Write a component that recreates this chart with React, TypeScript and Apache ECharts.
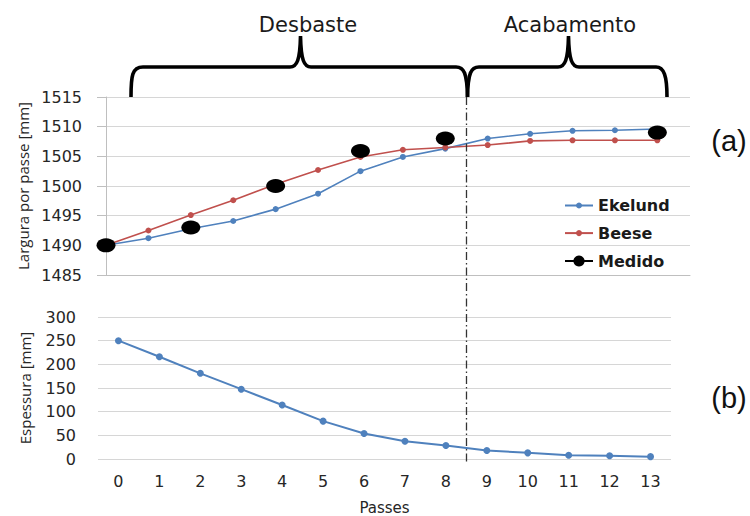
import React, { useEffect, useRef } from "react";
import * as echarts from "echarts";

const passes = ["0", "1", "2", "3", "4", "5", "6", "7", "8", "9", "10", "11", "12", "13"];
const ekelund = [1490, 1491.2, 1492.8, 1494.1, 1496.1, 1498.7, 1502.5, 1504.9, 1506.3, 1508.0, 1508.8, 1509.3, 1509.4, 1509.6];
const beese = [1490, 1492.5, 1495.1, 1497.6, 1500.3, 1502.7, 1504.9, 1506.1, 1506.5, 1506.9, 1507.6, 1507.7, 1507.7, 1507.7];
const medidoPasses = [0, 2, 4, 6, 8, 13];
const medido = [1490, 1493, 1500, 1505.9, 1508, 1509];
const espessura = [250, 216, 181, 147.5, 114, 80, 54, 37.5, 28.5, 18, 13, 8, 7, 5];
const phaseLabels = ["Desbaste", "Acabamento"];
const phaseSplit = 8.5;

const BLUE = "#4F81BD";
const RED = "#C0504D";
const GRID_COLOR = "#d6d6d6";
const LABEL_COLOR = "#262626";

const braceLeft =
  "M131,97 C131,76 132,67 143,67 L290,67 C297,67 300,60 300.5,36 C301,60 304,67 311,67 L456,67 C464,67 467,73 467.5,97";
const braceRight =
  "M467.5,97 C468,73 471,67 479,67 L558,67 C565,67 568,60 568.5,36 C569,60 572,67 579,67 L656,67 C664,67 667,76 667,97";

let registered = false;
function registerShapes() {
  if (registered) return;
  echarts.graphic.registerShape("braceLeft", echarts.graphic.extendPath(braceLeft, {}));
  echarts.graphic.registerShape("braceRight", echarts.graphic.extendPath(braceRight, {}));
  registered = true;
}

export default function App() {
  const ref = useRef<HTMLDivElement>(null);
  useEffect(() => {
    if (!ref.current) return;
    registerShapes();
    const chart = echarts.init(ref.current, null, { renderer: "svg" });
    const option: any = {
      animation: false,
      backgroundColor: "#ffffff",
      grid: [
        { left: 106, top: 97, width: 584, height: 178 },
        { left: 98, top: 317, width: 573, height: 147 },
      ],
      xAxis: [
        {
          type: "value",
          gridIndex: 0,
          min: 0,
          max: 13.77,
          axisLine: { show: true, lineStyle: { color: "#bfbfbf", width: 1 } },
          axisTick: { show: false },
          axisLabel: { show: false },
          splitLine: { show: false },
        },
        {
          type: "category",
          gridIndex: 1,
          data: passes,
          boundaryGap: true,
          axisLine: { show: false },
          axisTick: { show: false },
          axisLabel: { color: LABEL_COLOR, fontSize: 16, fontFamily: "DejaVu Sans", margin: 14 },
          name: "Passes",
          nameLocation: "middle",
          nameGap: 41,
          nameTextStyle: { color: LABEL_COLOR, fontSize: 15, fontFamily: "DejaVu Sans" },
        },
      ],
      yAxis: [
        {
          type: "value",
          gridIndex: 0,
          min: 1485,
          max: 1515,
          interval: 5,
          axisLine: { show: true, lineStyle: { color: "#bfbfbf" } },
          axisTick: { show: true, length: 9, lineStyle: { color: "#bfbfbf" } },
          axisLabel: {
            color: LABEL_COLOR,
            fontSize: 16,
            fontFamily: "DejaVu Sans",
            margin: 24,
            formatter: (v: number) => String(v),
          },
          splitLine: { lineStyle: { color: GRID_COLOR } },
          name: "Largura por passe [mm]",
          nameLocation: "middle",
          nameGap: 76,
          nameTextStyle: { color: LABEL_COLOR, fontSize: 15, fontFamily: "Open Sans" },
        },
        {
          type: "value",
          gridIndex: 1,
          min: 0,
          max: 300,
          interval: 50,
          axisLine: { show: false },
          axisTick: { show: false },
          axisLabel: {
            color: LABEL_COLOR,
            fontSize: 16,
            fontFamily: "DejaVu Sans",
            margin: 22,
            formatter: (v: number) => String(v),
          },
          splitLine: { lineStyle: { color: GRID_COLOR } },
          name: "Espessura [mm]",
          nameLocation: "middle",
          nameGap: 66,
          nameTextStyle: { color: LABEL_COLOR, fontSize: 15, fontFamily: "Open Sans" },
        },
      ],
      legend: [
        {
          data: ["Ekelund", "Beese"],
          orient: "vertical",
          left: 564,
          top: 197.5,
          padding: 0,
          itemWidth: 28,
          itemHeight: 7.5,
          itemGap: 11.6,
          textStyle: { fontSize: 16, fontWeight: "bold", fontFamily: "DejaVu Sans", color: "#1a1a1a", lineHeight: 16 },
        },
        {
          data: ["Medido"],
          orient: "vertical",
          left: 564,
          top: 253,
          padding: 0,
          itemWidth: 28,
          itemHeight: 14,
          lineStyle: { color: "#000", width: 2, opacity: 1 },
          textStyle: { fontSize: 16, fontWeight: "bold", fontFamily: "DejaVu Sans", color: "#1a1a1a", lineHeight: 16 },
        },
      ],
      series: [
        {
          name: "Ekelund",
          type: "line",
          xAxisIndex: 0,
          yAxisIndex: 0,
          data: ekelund.map((v, i) => [i, v]),
          symbol: "circle",
          symbolSize: 6,
          itemStyle: { color: BLUE },
          lineStyle: { color: BLUE, width: 1.6 },
        },
        {
          name: "Beese",
          type: "line",
          xAxisIndex: 0,
          yAxisIndex: 0,
          data: beese.map((v, i) => [i, v]),
          symbol: "circle",
          symbolSize: 6,
          itemStyle: { color: RED },
          lineStyle: { color: RED, width: 1.6 },
        },
        {
          name: "Medido",
          type: "line",
          xAxisIndex: 0,
          yAxisIndex: 0,
          data: medido.map((v, i) => [medidoPasses[i], v]),
          symbol: "circle",
          symbolSize: [19, 14],
          itemStyle: { color: "#000" },
          lineStyle: { color: "#000", width: 2, opacity: 0 },
          z: 5,
        },
        {
          name: "Espessura",
          type: "line",
          xAxisIndex: 1,
          yAxisIndex: 1,
          data: espessura,
          symbol: "circle",
          symbolSize: 7,
          itemStyle: { color: BLUE },
          lineStyle: { color: BLUE, width: 2 },
        },
      ],
    };
    chart.setOption(option);

    const splitX = chart.convertToPixel({ xAxisIndex: 0 }, phaseSplit) as number;
    const topY = chart.convertToPixel({ yAxisIndex: 0 }, 1515) as number;
    const bottomY = (chart.convertToPixel({ yAxisIndex: 1 }, 0) as number) + 3;

    chart.setOption({
      graphic: [
        {
          type: "line",
          shape: { x1: splitX, y1: topY, x2: splitX, y2: bottomY },
          style: { stroke: "#333", lineWidth: 1.3, lineDash: [8, 3, 1.5, 3] },
          z: 10,
        },
        {
          type: "braceLeft",
          x: 0,
          y: 0,
          style: { stroke: "#000", lineWidth: 3.6, fill: "none" },
          z: 11,
        },
        {
          type: "braceRight",
          x: 0,
          y: 0,
          style: { stroke: "#000", lineWidth: 3.6, fill: "none" },
          z: 11,
        },
        {
          type: "text",
          x: 308,
          y: 25,
          style: {
            text: phaseLabels[0],
            fontSize: 21,
            fontFamily: "DejaVu Sans",
            fill: "#1a1a1a",
            align: "center",
            verticalAlign: "middle",
          },
        },
        {
          type: "text",
          x: 570,
          y: 25,
          style: {
            text: phaseLabels[1],
            fontSize: 21,
            fontFamily: "DejaVu Sans",
            fill: "#1a1a1a",
            align: "center",
            verticalAlign: "middle",
          },
        },
        {
          type: "text",
          x: 729,
          y: 141,
          style: {
            text: "(a)",
            fontSize: 29,
            fontFamily: "Liberation Sans",
            fill: "#111",
            align: "center",
            verticalAlign: "middle",
          },
        },
        {
          type: "text",
          x: 729,
          y: 398,
          style: {
            text: "(b)",
            fontSize: 29,
            fontFamily: "Liberation Sans",
            fill: "#111",
            align: "center",
            verticalAlign: "middle",
          },
        },
      ],
    });

    return () => chart.dispose();
  }, []);
  return (
    <div
      ref={ref}
      style={{ position: "absolute", left: 0, top: 0, width: 750, height: 516, background: "#fff" }}
    />
  );
}
